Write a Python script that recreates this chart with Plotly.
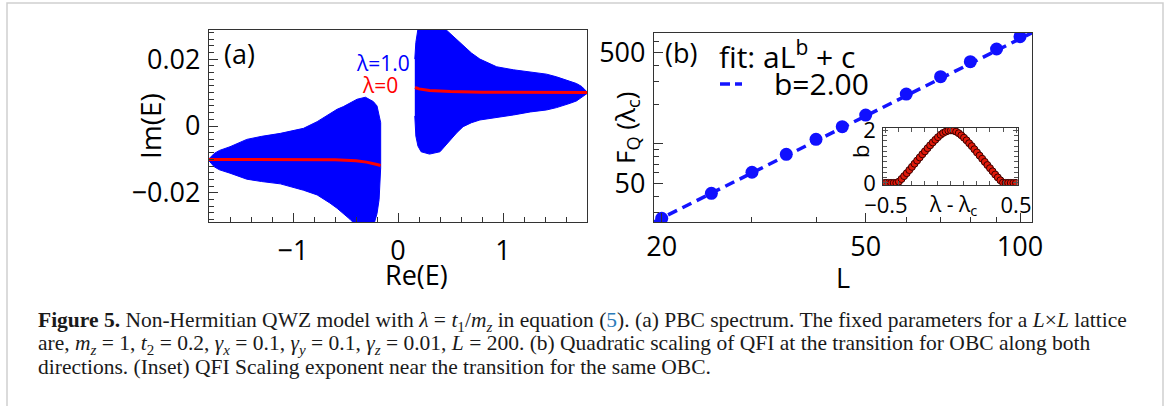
import plotly.graph_objects as go

W, H = 1167, 406

# ---------------- Panel (a): PBC spectrum (lambda = 1.0 band envelopes) ----------------
left_re = [-1.80, -1.75, -1.70, -1.60, -1.44, -1.30, -1.12, -0.965, -0.90, -0.77, -0.65, -0.58,
           -0.52, -0.457, -0.39, -0.31, -0.235, -0.20, -0.18, -0.165]
left_top = [-0.0098, -0.0082, -0.0073, -0.0062, -0.0040, -0.0031, -0.0022, -0.0012, -0.0007, 0.0013,
            0.0038, 0.0050, 0.0058, 0.0068, 0.0080, 0.0086, 0.0073, 0.0060, 0.0035, 0.0010]
left_bot = [-0.0104, -0.0122, -0.0131, -0.0141, -0.0159, -0.0166, -0.0173, -0.0186, -0.0192, -0.0206,
            -0.0230, -0.0246, -0.0262, -0.0279, -0.0300, -0.0300, -0.0300, -0.0262, -0.0220, -0.0125]

right_re = [0.160, 0.170, 0.19, 0.22, 0.30, 0.40, 0.45, 0.50, 0.56, 0.62, 0.70, 0.78, 0.94, 1.10,
            1.26, 1.415, 1.51, 1.64, 1.70, 1.75, 1.80]
right_top = [0.0200, 0.0250, 0.0290, 0.0300, 0.0300, 0.0300, 0.0290, 0.0275, 0.0257, 0.0240, 0.0218,
             0.0200, 0.0177, 0.0168, 0.0162, 0.0155, 0.0147, 0.0134, 0.0127, 0.0118, 0.0102]
right_bot = [0.0030, -0.0030, -0.0060, -0.0077, -0.0084, -0.0077, -0.0060, -0.0042, -0.0020, -0.0002,
             0.0010, 0.0018, 0.0026, 0.0033, 0.0042, 0.0048, 0.0055, 0.0068, 0.0075, 0.0085, 0.0097]

# lambda = 0 spectrum (red lines)
red_left_re = [-1.80, -1.40, -1.00, -0.60, -0.40, -0.30, -0.20, -0.165]
red_left_im = [-0.0100, -0.0100, -0.0100, -0.0101, -0.0104, -0.0108, -0.0115, -0.0118]
red_right_re = [0.162, 0.20, 0.30, 0.50, 0.80, 1.20, 1.80]
red_right_im = [0.0115, 0.0111, 0.0106, 0.0103, 0.0101, 0.0100, 0.0100]

# ---------------- Panel (b): QFI scaling ----------------
L_vals = [20, 25, 30, 35, 40, 45, 50, 60, 70, 80, 90, 100]
FQ_vals = [27.0, 41.9, 60.7, 83.2, 108.4, 135.3, 166.0, 240.0, 325.6, 423.7, 530.0, 657.7]
fit_L = [19.3, 105.6]
fit_F = [25.3, 706.0]

# inset: scaling exponent b vs lambda - lambda_c
lam = [-0.52, -0.50, -0.48, -0.46, -0.44, -0.42, -0.40, -0.38, -0.36, -0.34, -0.32, -0.30, -0.28,
       -0.26, -0.24, -0.22, -0.20, -0.18, -0.16, -0.14, -0.12, -0.10, -0.08, -0.06, -0.04, -0.02,
       0.00, 0.02, 0.04, 0.06, 0.08, 0.10, 0.12, 0.14, 0.16, 0.18, 0.20, 0.22, 0.24, 0.26, 0.28,
       0.30, 0.32, 0.34, 0.36, 0.38, 0.40, 0.42, 0.44, 0.46, 0.48, 0.50]
b_vals = [0.0, 0.0, 0.0, 0.0, 0.0, 0.0, 0.05, 0.15, 0.26, 0.37, 0.49, 0.61, 0.73,
          0.85, 0.97, 1.09, 1.20, 1.32, 1.43, 1.54, 1.64, 1.74, 1.83, 1.90, 1.95, 1.99,
          2.00, 1.99, 1.95, 1.89, 1.81, 1.72, 1.62, 1.51, 1.40, 1.28, 1.16, 1.04, 0.92, 0.80, 0.68,
          0.56, 0.44, 0.32, 0.21, 0.10, 0.01, 0.0, 0.0, 0.0, 0.0, 0.0]


def X(px):
    return px / W


def Y(py):
    return 1 - py / H


SANS = "Open Sans"
fig = go.Figure()

# panel (a) bands
fig.add_trace(go.Scatter(x=left_re + left_re[::-1], y=left_top + left_bot[::-1], fill="toself",
                         fillcolor="#0000ff", line=dict(color="#0000ff", width=1), mode="lines",
                         xaxis="x", yaxis="y", showlegend=False, hoverinfo="skip"))
fig.add_trace(go.Scatter(x=right_re + right_re[::-1], y=right_top + right_bot[::-1], fill="toself",
                         fillcolor="#0000ff", line=dict(color="#0000ff", width=1), mode="lines",
                         xaxis="x", yaxis="y", showlegend=False, hoverinfo="skip"))
fig.add_trace(go.Scatter(x=red_left_re, y=red_left_im, mode="lines", line=dict(color="#ff0000", width=3),
                         xaxis="x", yaxis="y", showlegend=False))
fig.add_trace(go.Scatter(x=red_right_re, y=red_right_im, mode="lines", line=dict(color="#ff0000", width=3),
                         xaxis="x", yaxis="y", showlegend=False))

# panel (b)
fig.add_trace(go.Scatter(x=fit_L, y=fit_F, mode="lines",
                         line=dict(color="#1414ff", width=3.5, dash="10px,6px"),
                         xaxis="x2", yaxis="y2", showlegend=False))
fig.add_trace(go.Scatter(x=L_vals, y=FQ_vals, mode="markers",
                         marker=dict(color="#1010ff", size=13, line=dict(width=0)),
                         xaxis="x2", yaxis="y2", showlegend=False))

# inset
fig.add_trace(go.Scatter(x=lam, y=b_vals, mode="markers",
                         marker=dict(color="#e01a0a", size=7, line=dict(color="#3a0000", width=1)),
                         xaxis="x3", yaxis="y3", showlegend=False))

axis_common = dict(showgrid=False, zeroline=False, showline=True, linecolor="#333", linewidth=1.2,
                   ticks="inside", tickcolor="#333", tickwidth=1.2, ticklen=9, automargin=False,
                   tickfont=dict(family=SANS, size=27, color="black"))
inset_common = dict(showgrid=False, zeroline=False, showline=True, linecolor="#333", linewidth=1,
                    ticks="inside", ticklen=5, tickwidth=1, tickcolor="#555", automargin=False,
                    mirror="ticks", tickfont=dict(family=SANS, size=22, color="black"))

fig.update_layout(
    width=W, height=H, autosize=False,
    margin=dict(l=0, r=0, t=0, b=0, pad=0, autoexpand=False),
    paper_bgcolor="white", plot_bgcolor="white", showlegend=False,
    xaxis=dict(domain=[X(209), X(587)], range=[-1.8, 1.8], tickvals=[-1, 0, 1], ticktext=["−1", "0", "1"],
               mirror=True, anchor="y", ticklabelstandoff=4,
               minor=dict(tickmode="linear", tick0=0, dtick=0.2, ticks="inside", ticklen=5,
                          tickcolor="#333", tickwidth=1.2), **axis_common),
    yaxis=dict(domain=[Y(222), Y(30)], range=[-0.0287, 0.0287], tickvals=[-0.02, 0, 0.02],
               ticktext=["−0.02", "0", "0.02"], mirror=True, anchor="x", ticklabelstandoff=2,
               minor=dict(tickmode="linear", tick0=0, dtick=0.002, ticks="inside", ticklen=5,
                          tickcolor="#333", tickwidth=1.2), **axis_common),
    xaxis2=dict(type="log", domain=[X(654), X(1032)], range=[1.286, 2.0234], tickvals=[20, 50, 100],
                ticktext=["20", "50", "100"], mirror=True, anchor="y2", ticklabelstandoff=0,
                minor=dict(tickvals=[30, 40, 60, 70, 80, 90], ticks="inside", ticklen=5,
                           tickcolor="#333", tickwidth=1.2), **axis_common),
    yaxis2=dict(type="log", domain=[Y(222), Y(32.7)], range=[1.4036, 2.8486], tickvals=[50, 100, 500],
                ticktext=["50", "", "500"], mirror=True, anchor="x2", ticklabelstandoff=2,
                minor=dict(tickvals=[30, 40, 60, 70, 80, 90, 200, 300, 400, 600, 700], ticks="inside",
                           ticklen=5, tickcolor="#333", tickwidth=1.2), **axis_common),
    xaxis3=dict(domain=[X(883.3), X(1017.7)], range=[-0.52, 0.513], tickvals=[-0.5, 0.5],
                ticktext=["−0.5", "0.5"], anchor="y3", ticklabelstandoff=0,
                minor=dict(tickmode="linear", tick0=0, dtick=0.1, ticks="inside", ticklen=4,
                           tickcolor="#555", tickwidth=1), **inset_common),
    yaxis3=dict(domain=[Y(185.3), Y(127.7)], range=[-0.09, 2.1], tickvals=[0, 2], ticktext=["0", "2"],
                anchor="x3", ticklabelstandoff=2,
                minor=dict(tickmode="linear", tick0=0, dtick=0.2, ticks="inside", ticklen=4,
                           tickcolor="#555", tickwidth=1), **inset_common),
)


def ann(text, px, py, size, color="black", xanchor="center", angle=0, family=SANS):
    fig.add_annotation(text=text, x=X(px), y=Y(py), xref="paper", yref="paper", showarrow=False,
                       xanchor=xanchor, yanchor="middle", textangle=angle,
                       font=dict(family=family, size=size, color=color))


# panel (a) texts
ann("(a)", 239, 53, 27)
ann("λ=1.0", 383, 63, 21, color="#0000ff")
ann("λ=0", 380, 85, 21, color="#ff0000")
ann("Im(E)", 150, 126, 28, angle=-90)
ann("Re(E)", 416, 274, 27)

# panel (b) texts
ann("(b)", 681, 52, 27)
ann("fit: aL<sup>b</sup> + c", 717, 55, 30, xanchor="left")
ann("b=2.00", 772, 84, 30, xanchor="left")
ann("F<sub>Q</sub> (λ<sub>c</sub>)", 626, 128, 26, angle=-90)
ann("L", 843, 277, 27)
ann("b", 860, 152, 22, angle=-90)
ann("λ - λ<sub>c</sub>", 953, 205, 21)

# legend dash glyph
fig.add_shape(type="line", x0=X(720), x1=X(742), y0=Y(84), y1=Y(84), xref="paper", yref="paper",
              line=dict(color="#1414ff", width=3.5, dash="10px,5px"))

# page border
fig.add_shape(type="rect", x0=X(7), x1=X(1163), y0=-0.2, y1=Y(3), xref="paper", yref="paper",
              line=dict(color="#cfcfcf", width=1.5), layer="below")

# caption
SERIF = "Liberation Serif"
cap1 = ("<b>Figure 5.</b> Non-Hermitian QWZ model with <i>λ</i> = <i>t</i><sub>1</sub>/<i>m<sub>z</sub></i> "
        "in equation (<span style='color:#2b7bb9'>5</span>). (a) PBC spectrum. The fixed parameters for a "
        "<i>L</i>×<i>L</i> lattice")
cap2 = ("are, <i>m<sub>z</sub></i> = 1, <i>t</i><sub>2</sub> = 0.2, <i>γ<sub>x</sub></i> = 0.1, "
        "<i>γ<sub>y</sub></i> = 0.1, <i>γ<sub>z</sub></i> = 0.01, <i>L</i> = 200. (b) Quadratic scaling of "
        "QFI at the transition for OBC along both")
cap3 = "directions. (Inset) QFI Scaling exponent near the transition for the same OBC."
ann(cap1, 36, 321, 21.5, color="#1a1a1a", xanchor="left", family=SERIF)
ann(cap2, 36, 344, 21.5, color="#1a1a1a", xanchor="left", family=SERIF)
ann(cap3, 36, 367, 21.5, color="#1a1a1a", xanchor="left", family=SERIF)

fig.write_html("out.html", config={"displayModeBar": False},
               post_script="document.body.style.margin='0px';")
